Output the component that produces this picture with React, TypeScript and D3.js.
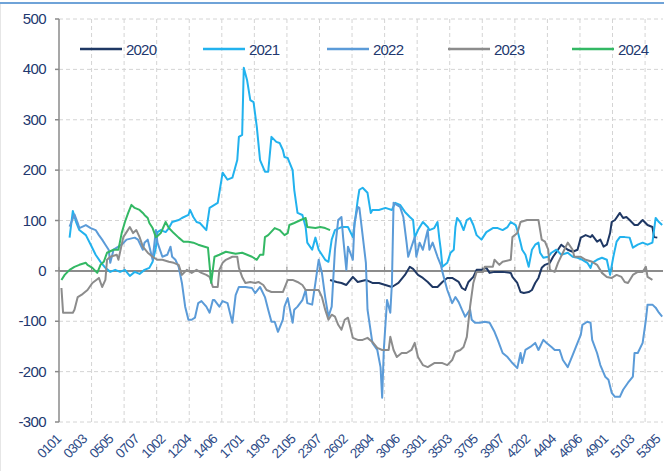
import { useMemo } from 'react';
import * as d3 from 'd3';

// Day index (week*7 + weekday) and value for each year's series
const s2020: [number, number][] = [
  [166, -18], [170, -22], [173, -24], [176, -28], [180, -12], [183, -22], [188, -18], [192, -24],
  [196, -24], [200, -28], [204, -32], [208, -24], [212, -8], [215, 8], [217, 4], [220, -8],
  [223, -14], [226, -22], [229, -32], [232, -32], [235, -22], [238, -14], [241, -14], [245, -22],
  [247, -34], [249, -38], [251, -22], [254, -12], [256, 2], [259, 2], [262, 6], [264, -4],
  [267, -2], [272, -2], [277, -4], [278, -12], [281, -24], [283, -42], [285, -44], [288, -42],
  [290, -38], [292, -24], [294, -14], [296, 6], [298, 12], [301, 16], [303, 28], [306, 42],
  [308, 52], [312, 42], [315, 38], [318, 42], [320, 66], [323, 71], [326, 67], [327, 71],
  [330, 58], [332, 62], [334, 48], [336, 52], [338, 75], [339, 97], [341, 101], [344, 115],
  [346, 105], [348, 107], [350, 101], [353, 91], [355, 91], [358, 101], [361, 91], [364, 87],
  [365, 67], [367, 66],
];

const s2021: [number, number][] = [
  [6, 66], [8, 119], [10, 97], [12, 81], [16, 71], [19, 52], [22, 32], [25, 18], [28, 6],
  [31, -2], [34, 2], [37, -2], [40, 2], [43, -10], [46, -2], [49, -6], [52, 2], [55, 6],
  [57, 18], [59, 46], [60, 77], [62, 81], [65, 77], [67, 85], [69, 97], [73, 101], [75, 105],
  [79, 111], [80, 121], [82, 107], [84, 97], [86, 95], [90, 81], [92, 125], [95, 131],
  [97, 135], [100, 195], [103, 181], [106, 185], [109, 220], [110, 266], [112, 270], [113, 403],
  [115, 379], [117, 339], [119, 335], [121, 286], [123, 220], [126, 197], [128, 197], [130, 266],
  [133, 256], [135, 254], [137, 240], [138, 226], [140, 224], [143, 200], [144, 161], [146, 115],
  [149, 111], [151, 87], [152, 56], [155, 42], [157, 66], [159, 42], [161, 32], [163, 22],
  [165, 18], [167, 62], [169, 81], [173, 87], [177, 87], [180, 67], [183, 141], [184, 161],
  [186, 165], [189, 155], [191, 115], [192, 121], [196, 121], [200, 125], [204, 121], [206, 135],
  [209, 131], [212, 117], [215, 107], [217, 101], [218, 66], [220, 81], [223, 97], [226, 87],
  [227, 81], [230, 85], [232, 97], [233, 67], [234, 42], [235, 8], [238, 16], [240, 36],
  [242, 42], [243, 87], [244, 105], [246, 97], [248, 81], [250, 101], [252, 105], [254, 91],
  [256, 71], [259, 62], [262, 77], [266, 85], [269, 85], [272, 81], [275, 87], [277, 97],
  [280, 91], [281, 81], [283, 56], [284, 42], [286, 32], [288, 8], [290, 42], [292, 52],
  [294, 56], [295, 36], [297, 26], [300, 28], [302, 36], [305, 42], [308, 32], [312, 36],
  [315, 28], [318, 26], [321, 22], [324, 16], [326, 6], [327, 16], [330, 22], [333, 26],
  [336, 22], [338, -8], [340, 28], [342, 58], [344, 67], [347, 67], [350, 66], [352, 46],
  [355, 52], [358, 56], [361, 52], [364, 56], [365, 81], [366, 105], [368, 97], [370, 91],
];

const s2022: [number, number][] = [
  [6, 88], [9, 112], [11, 95], [12, 85], [16, 91], [19, 85], [22, 81], [24, 71], [26, 62],
  [28, 52], [30, 42], [31, 16], [33, 42], [36, 48], [38, 52], [41, 62], [46, 66], [48, 62],
  [51, 42], [52, 56], [54, 62], [57, 22], [59, 81], [60, 56], [63, 28], [66, 32], [68, 48],
  [69, 28], [71, 22], [73, 8], [75, -24], [77, -71], [79, -97], [81, -97], [83, -93], [85, -64],
  [87, -60], [90, -71], [92, -83], [94, -58], [95, -58], [98, -71], [100, -60], [103, -64],
  [106, -103], [108, -48], [110, -32], [114, -32], [118, -34], [120, -44], [123, -32], [126, -52],
  [128, -77], [130, -101], [132, -101], [134, -121], [137, -97], [138, -71], [140, -54], [143, -103],
  [144, -77], [146, -71], [149, -58], [151, -38], [152, -64], [155, -67], [157, -24], [159, 22],
  [161, -4], [163, -52], [165, -91], [167, -71], [169, 42], [171, 101], [173, 107], [174, 67],
  [176, 2], [177, 48], [180, 22], [181, 95], [183, 127], [184, 125], [188, 16], [189, -77],
  [192, -143], [195, -157], [197, -191], [198, -252], [199, -157], [201, -58], [203, -83], [204, -24],
  [205, 135], [207, 131], [209, 127], [211, 107], [213, 56], [214, 28], [216, 48], [218, 67],
  [219, 28], [221, 56], [223, 42], [226, 81], [227, 42], [229, 56], [232, 28], [234, 12],
  [235, -2], [238, -38], [241, -64], [243, -52], [245, -62], [247, -77], [249, -91], [252, -77],
  [253, -97], [255, -103], [258, -103], [261, -101], [264, -103], [267, -121], [269, -137], [272, -163],
  [275, -171], [278, -183], [281, -193], [283, -163], [284, -183], [286, -157], [289, -151], [292, -143],
  [294, -157], [297, -137], [299, -143], [302, -151], [304, -157], [307, -157], [309, -177], [312, -191],
  [313, -183], [315, -167], [318, -143], [320, -127], [321, -107], [324, -101], [326, -103], [327, -137],
  [330, -163], [332, -187], [335, -210], [337, -216], [339, -242], [341, -250], [344, -250], [346, -236],
  [349, -222], [352, -210], [353, -163], [355, -163], [358, -143], [360, -97], [361, -67], [364, -67],
  [366, -73], [368, -83], [370, -91],
];

const s2023: [number, number][] = [
  [1, -34], [2, -83], [8, -83], [9, -77], [11, -52], [14, -46], [17, -38], [20, -24], [24, -14],
  [26, -32], [28, -18], [29, 22], [31, 28], [35, 32], [36, 22], [39, 67], [41, 77], [43, 87],
  [45, 75], [47, 81], [49, 67], [51, 48], [54, 36], [57, 28], [60, 22], [63, 22], [67, 18],
  [70, 16], [73, 12], [75, -8], [78, 2], [81, -4], [84, 2], [87, -4], [90, -8], [92, -12],
  [94, -32], [97, -32], [98, 2], [100, 16], [102, 22], [106, 28], [109, 28], [110, 6], [112, -12],
  [114, -24], [117, -22], [120, -24], [122, -22], [125, -28], [127, -38], [130, -42], [137, -42],
  [140, -18], [143, -18], [146, -22], [149, -28], [151, -38], [159, -38], [161, -52], [163, -77],
  [165, -97], [167, -87], [169, -91], [171, -107], [173, -117], [175, -97], [177, -93], [180, -133],
  [183, -137], [186, -137], [189, -133], [192, -141], [195, -153], [198, -157], [202, -157], [203, -131],
  [205, -157], [207, -171], [210, -163], [213, -163], [216, -157], [218, -143], [220, -171], [223, -187],
  [226, -191], [230, -183], [235, -183], [238, -187], [241, -177], [243, -161], [246, -157], [248, -151],
  [250, -131], [252, -71], [254, -24], [256, -2], [260, -2], [261, 8], [266, 8], [267, 22],
  [270, 12], [272, 18], [277, 22], [278, 67], [281, 75], [283, 97], [287, 101], [294, 101],
  [296, 62], [298, 58], [300, 42], [301, 2], [304, -2], [306, 16], [309, 36], [312, 56],
  [315, 42], [316, 28], [320, 28], [323, 22], [327, 18], [330, 12], [333, -4], [336, -12],
  [339, -14], [342, -8], [345, -12], [347, -22], [349, -24], [352, -8], [355, -2], [358, -2],
  [360, 8], [361, -12], [364, -18],
];

const s2024: [number, number][] = [
  [1, -18], [3, -8], [6, 2], [9, 8], [12, 12], [16, 16], [17, 12], [20, 6], [23, -4], [25, 12],
  [27, 18], [29, 36], [33, 42], [36, 42], [38, 75], [40, 97], [42, 115], [44, 131], [46, 125],
  [49, 121], [51, 115], [52, 111], [54, 105], [55, 95], [57, 85], [59, 67], [60, 69], [62, 75],
  [65, 97], [67, 85], [70, 75], [73, 66], [76, 58], [79, 58], [82, 56], [85, 52], [89, 48],
  [91, 46], [93, -24], [95, 28], [98, 32], [102, 38], [108, 34], [112, 36], [118, 28], [121, 22],
  [123, 32], [125, 32], [126, 67], [128, 71], [132, 85], [135, 81], [138, 71], [140, 75],
  [141, 91], [144, 95], [148, 101], [151, 105], [152, 87], [157, 85], [160, 87], [163, 85],
  [166, 81],
];

const seriesNames = ['2020', '2021', '2022', '2023', '2024'];
const seriesColors = ['#1f3864', '#22b2ee', '#5b9bd8', '#8c8c8c', '#33b864'];
const seriesData = [s2020, s2021, s2022, s2023, s2024];

const yTicks = [-300, -200, -100, 0, 100, 200, 300, 400, 500];
const xTickLabels = [
  '0101', '0303', '0505', '0707', '1002', '1204', '1406', '1701', '1903', '2105', '2307', '2602',
  '2804', '3006', '3301', '3503', '3705', '3907', '4202', '4404', '4606', '4901', '5103', '5305',
];
const WEEKS = 53;
const DAYS = 7;
const GRID_EVERY = 20;

const W = 664;
const H = 471;
const PLOT = { left: 59, right: 663, top: 19, bottom: 422 };
const TEXT = '#22386f';
const FONT = '"Liberation Sans", Arial, sans-serif';

const dayIndex = (code: string) => (parseInt(code.slice(0, 2), 10) - 1) * DAYS + parseInt(code.slice(2), 10) - 1;

export default function App() {
  const nDays = WEEKS * DAYS;

  const x = useMemo(() => d3.scaleLinear().domain([0, nDays]).range([PLOT.left, PLOT.right]), [nDays]);
  const y = useMemo(() => d3.scaleLinear().domain([-300, 500]).range([PLOT.bottom, PLOT.top]), []);

  const line = d3.line<[number, number]>()
    .x((d) => x(d[0] + 0.5))
    .y((d) => y(d[1]));

  const gridX = d3.range(0, nDays, GRID_EVERY);

  return (
    <svg width={W} height={H} style={{ position: 'absolute', left: 0, top: 0, background: '#fff' }}>
      {/* frame */}
      <line x1={0} x2={W} y1={3} y2={3} stroke="#6fa3d8" strokeWidth={2} />
      <line x1={0.5} x2={0.5} y1={4} y2={H} stroke="#e6e6e6" strokeWidth={1} />

      {/* grid */}
      {yTicks.map((t) => (
        <line key={'gy' + t} x1={PLOT.left} x2={PLOT.right} y1={y(t)} y2={y(t)}
          stroke="#d4d4d4" strokeWidth={1} strokeDasharray="4,3" />
      ))}
      {gridX.slice(1).map((g) => (
        <line key={'gx' + g} x1={x(g)} x2={x(g)} y1={PLOT.top} y2={PLOT.bottom}
          stroke="#d4d4d4" strokeWidth={1} strokeDasharray="4,3" />
      ))}

      {/* y axis */}
      <line x1={PLOT.left} x2={PLOT.left} y1={PLOT.top} y2={PLOT.bottom} stroke="#8a8a8a" strokeWidth={1.5} />
      {yTicks.map((t) => (
        <g key={'yt' + t}>
          <line x1={PLOT.left - 4} x2={PLOT.left} y1={y(t)} y2={y(t)} stroke="#8a8a8a" strokeWidth={1.5} />
          <text x={46} y={y(t) + 5} textAnchor="end" fontFamily={FONT} fontSize={15}
            letterSpacing={-0.6} fill={TEXT}>{t}</text>
        </g>
      ))}

      {/* zero axis */}
      <line x1={PLOT.left} x2={PLOT.right} y1={y(0)} y2={y(0)} stroke="#8c8c8c" strokeWidth={2} />
      {gridX.map((g) => (
        <line key={'zt' + g} x1={x(g)} x2={x(g)} y1={y(0) - 4} y2={y(0)} stroke="#8c8c8c" strokeWidth={1} />
      ))}

      {/* x labels */}
      {xTickLabels.map((lab) => {
        const px = x(dayIndex(lab) + 0.5) + 2;
        const py = PLOT.bottom + 18;
        return (
          <text key={lab} x={px} y={py} transform={`rotate(-45 ${px} ${py})`} textAnchor="end"
            fontFamily={FONT} fontSize={13.5} letterSpacing={-0.8} fill="#2c4a86">{lab}</text>
        );
      })}

      {/* series */}
      {seriesData.map((data, i) => (
        <path key={seriesNames[i]} d={line(data) ?? ''} fill="none" stroke={seriesColors[i]}
          strokeWidth={2} strokeLinejoin="round" />
      ))}

      {/* legend */}
      {seriesNames.map((name, i) => {
        const lx = [80, 203, 327, 448, 572][i];
        return (
          <g key={'lg' + name}>
            <line x1={lx} x2={lx + 42} y1={49} y2={49} stroke={seriesColors[i]} strokeWidth={2.5} />
            <text x={lx + 46} y={54.5} fontFamily={FONT} fontSize={15} letterSpacing={-0.8}
              fill={TEXT}>{name}</text>
          </g>
        );
      })}
    </svg>
  );
}
